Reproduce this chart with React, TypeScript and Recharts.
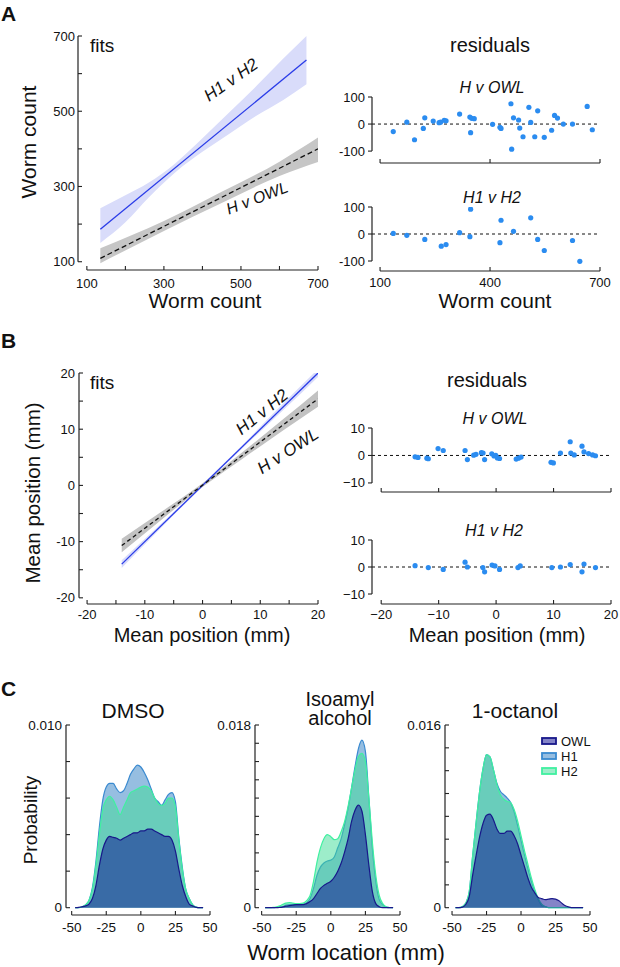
import React from 'react';
import { ComposedChart, Line, Area, Scatter, XAxis, YAxis, ReferenceLine } from 'recharts';

const FONT = '"Liberation Sans", Arial, Helvetica, sans-serif';
const AX = '#222';

// ---------------- Panel A: worm count fits ----------------
const A_TICKS = [100, 200, 300, 400, 500, 600, 700];
const A_TICK_LABELS: Record<number, string> = { 100: '100', 300: '300', 500: '500', 700: '700' };
const A_H12_LINE_X = [135, 670];
const A_H12_LINE_Y = [186, 636];
const A_H12_BAND_X = [135, 200, 260, 330, 400, 470, 540, 610, 670];
const A_H12_BAND_LO = [150, 205, 270, 338, 392, 440, 488, 530, 572];
const A_H12_BAND_HI = [242, 277, 310, 362, 428, 497, 567, 640, 700];
const A_HOWL_LINE_X = [135, 700];
const A_HOWL_LINE_Y = [109, 400];
const A_HOWL_BAND_X = [135, 300, 450, 600, 700];
const A_HOWL_BAND_LO = [96, 182, 256, 328, 365];
const A_HOWL_BAND_HI = [136, 208, 286, 366, 430];

// ---------------- Panel A: residuals ----------------
const A_RES_TICKS_X = [100, 400, 700];
const A_RES_TICKS_Y = [-100, 0, 100];
const A_RES_OWL_X = [136, 173, 194, 218, 222, 245, 261, 265, 275, 280, 317, 345, 347, 350, 357, 407, 427, 430, 457, 459, 464, 478, 481, 490, 506, 511, 522, 530, 548, 568, 576, 584, 600, 625, 665, 679];
const A_RES_OWL_Y = [-28, 7, -58, -16, 23, 11, 5, 7, 14, 12, 37, 26, -32, 21, 20, -1, -12, -16, 75, -93, 23, 15, -15, -47, 62, 6, -47, 49, -49, -23, 32, 22, 0, 0, 65, -21];
const A_RES_H12_X = [136, 173, 222, 267, 280, 317, 345, 347, 427, 430, 464, 511, 530, 548, 625, 645];
const A_RES_H12_Y = [2, -5, -20, -45, -39, 5, -10, 92, -32, 51, 10, 60, -20, -61, -24, -101];

// ---------------- Panel B: mean position fits ----------------
const B_TICKS = [-20, -15, -10, -5, 0, 5, 10, 15, 20];
const B_TICK_LABELS: Record<number, string> = { [-20]: '-20', [-10]: '-10', 0: '0', 10: '10', 20: '20' };
const B_H12_LINE_X = [-14, 20];
const B_H12_LINE_Y = [-14, 20];
const B_H12_BAND_X = [-14, -7, 0, 7, 14, 20];
const B_H12_BAND_LO = [-14.7, -7.35, -0.2, 6.7, 13.4, 19.3];
const B_H12_BAND_HI = [-13.3, -6.65, 0.2, 7.3, 14.6, 20.7];
const B_HOWL_LINE_X = [-14, 20];
const B_HOWL_LINE_Y = [-10.7, 15.4];
const B_HOWL_BAND_X = [-14, -7, 0, 7, 14, 20];
const B_HOWL_BAND_LO = [-11.9, -6.0, -0.3, 4.8, 9.8, 14.0];
const B_HOWL_BAND_HI = [-9.5, -4.6, 0.4, 6.0, 11.8, 16.9];

// ---------------- Panel B: residuals ----------------
const B_RES_TICKS_X = [-20, -10, 0, 10, 20];
const B_RES_TICK_LABELS_X: Record<number, string> = { [-20]: '\u221220', [-10]: '\u221210', 0: '0', 10: '10', 20: '20' };
const B_RES_TICKS_Y = [-10, 0, 10];
const B_RES_TICK_LABELS_Y: Record<number, string> = { [-10]: '\u221210', 0: '0', 10: '10' };
const B_RES_OWL_X = [-14.1, -13.6, -12.05, -11.8, -10.1, -9.2, -5.4, -5.0, -3.9, -3.5, -2.56, -2.27, -2.0, -0.75, -0.35, -0.06, 0.23, 0.6, 3.5, 3.9, 4.35, 9.56, 9.97, 11.2, 12.9, 13.0, 13.6, 14.95, 15.3, 16.1, 16.8, 17.3];
const B_RES_OWL_Y = [-0.5, -0.7, -1, -1.2, 2.5, 1.8, 1.8, -1.5, 0.1, 0.4, 1, 0.9, -1.5, 0.6, -0.2, 0, -0.9, -1.1, -1.3, -1, -0.6, -2.5, -2.7, 0.9, 5, 0.9, 0.2, 3.4, 1.3, 0.7, 0.2, -0.1];
const B_RES_H12_X = [-14.1, -11.8, -9.2, -5.4, -5.0, -2.3, -2.0, -0.7, -0.2, 0.6, 3.8, 4.2, 9.7, 11.2, 12.9, 14.95, 15.3, 17.3];
const B_RES_H12_Y = [0.5, -0.2, -0.9, 1.8, 0, -0.2, -1.8, 0.7, 0.4, -0.9, -0.2, 0.4, -0.2, 0, 0.9, -1.8, 1.1, -0.2];

// ---------------- Panel C: location densities (units of 1e-3) ----------------
const LOC_X = [-47.5, -45, -42.5, -40, -37.5, -35, -32.5, -30, -27.5, -25, -22.5, -20, -17.5, -15, -12.5, -10, -7.5, -5, -2.5, 0, 2.5, 5, 7.5, 10, 12.5, 15, 17.5, 20, 22.5, 25, 27.5, 30, 32.5, 35, 37.5, 40, 42.5, 45];
const LOC_TICKS = [-50, -25, 0, 25, 50];

const DMSO_H1 = [0, 0, 0.05, 0.15, 0.4, 1.1, 2.5, 4.4, 5.9, 6.6, 6.8, 6.8, 6.5, 6.3, 6.4, 6.8, 7.3, 7.6, 7.8, 7.7, 7.4, 7.0, 6.5, 6.0, 5.8, 5.6, 5.9, 6.2, 6.3, 5.8, 3.8, 2.2, 1.0, 0.5, 0.15, 0.03, 0, 0];
const DMSO_H2 = [0, 0, 0.05, 0.15, 0.4, 1.0, 2.3, 4.0, 5.4, 5.9, 6.1, 5.9, 5.5, 5.1, 5.5, 5.9, 6.3, 6.4, 6.5, 6.6, 6.65, 6.6, 6.4, 6.0, 5.7, 5.6, 5.7, 6.0, 6.0, 5.5, 3.7, 2.1, 1.0, 0.5, 0.15, 0.03, 0, 0];
const DMSO_OWL = [0, 0.02, 0.05, 0.1, 0.2, 0.5, 1.2, 2.3, 3.2, 3.7, 3.9, 3.85, 3.8, 3.7, 3.8, 3.9, 4.0, 4.1, 4.1, 4.2, 4.2, 4.3, 4.3, 4.2, 4.1, 4.0, 3.9, 3.9, 3.7, 3.1, 2.1, 1.2, 0.6, 0.2, 0.1, 0.02, 0, 0];

const ISO_H1 = [0, 0, 0, 0.02, 0.05, 0.1, 0.25, 0.3, 0.3, 0.3, 0.3, 0.35, 0.5, 0.9, 1.9, 3.2, 4.0, 4.4, 4.6, 4.7, 5.0, 5.9, 6.8, 8.2, 9.8, 11.8, 13.9, 15.7, 16.5, 15.4, 10.8, 5.9, 2.6, 0.8, 0.3, 0.05, 0, 0];
const ISO_H2 = [0, 0, 0.02, 0.05, 0.15, 0.3, 0.45, 0.5, 0.45, 0.4, 0.4, 0.45, 0.7, 1.2, 2.6, 4.5, 5.9, 6.8, 7.2, 7.0, 6.7, 6.8, 7.5, 8.5, 10.0, 11.8, 13.6, 14.9, 15.2, 14.4, 10.8, 6.5, 3.2, 1.2, 0.4, 0.1, 0.02, 0];
const ISO_OWL = [0, 0, 0, 0, 0.02, 0.05, 0.15, 0.2, 0.25, 0.3, 0.3, 0.3, 0.4, 0.6, 0.9, 1.4, 1.9, 2.2, 2.4, 2.6, 3.0, 3.6, 4.4, 5.5, 6.8, 8.5, 9.6, 10.1, 9.5, 7.2, 4.2, 1.6, 0.4, 0.1, 0, 0, 0, 0];

const OCT_H1 = [0, 0, 0.1, 0.4, 1.4, 4.6, 7.5, 10.2, 12.2, 13.4, 13.2, 12.1, 10.9, 10.2, 9.9, 9.6, 9.2, 8.4, 7.2, 5.9, 4.6, 3.4, 2.3, 1.4, 0.7, 0.2, 0.1, 0, 0, 0, 0, 0, 0, 0, 0, 0, 0, 0];
const OCT_H2 = [0, 0, 0.1, 0.4, 1.4, 4.6, 7.5, 10.2, 12.2, 13.4, 13.2, 12.1, 10.8, 9.9, 9.5, 9.3, 9.2, 8.6, 7.6, 6.3, 5.0, 3.8, 2.6, 1.6, 0.8, 0.3, 0.1, 0, 0, 0, 0, 0, 0, 0, 0, 0, 0, 0];
const OCT_OWL = [0, 0, 0.05, 0.3, 1.0, 2.9, 4.6, 6.2, 7.4, 8.1, 8.2, 7.7, 6.9, 6.5, 6.5, 6.7, 6.7, 6.3, 5.6, 4.6, 3.6, 2.6, 1.8, 1.3, 0.9, 0.8, 0.7, 0.75, 0.8, 0.75, 0.6, 0.35, 0.15, 0.05, 0, 0, 0, 0];

const DMSO_YTICKS = [0, 2, 4, 6, 8, 10];
const ISO_YTICKS = [0, 1.8, 3.6, 5.4, 7.2, 9, 10.8, 12.6, 14.4, 16.2, 18];
const OCT_YTICKS = [0, 2, 4, 6, 8, 10, 12, 14, 16];

const SERIES = [
  { key: 'h1', name: 'H1', fill: '#2d7dc3', stroke: '#3a8ad0' },
  { key: 'h2', name: 'H2', fill: '#3cdc96', stroke: '#40f0a0' },
  { key: 'owl', name: 'OWL', fill: '#0a0a91', stroke: '#18188a' },
];

// ---------------- helpers ----------------
type Row = Record<string, any>;
function mergeRows(series: { key: string; xs: number[]; ys: any[] }[]): Row[] {
  const m = new Map<number, Row>();
  series.forEach((s) => s.xs.forEach((x, i) => {
    const r = m.get(x) ?? { x };
    r[s.key] = s.ys[i];
    m.set(x, r);
  }));
  return Array.from(m.values()).sort((a, b) => a.x - b.x);
}
const zip = (lo: number[], hi: number[]) => lo.map((l, i) => [l, hi[i]]);
const pts = (xs: number[], ys: number[]) => xs.map((x, i) => ({ x, r: ys[i] }));
const dens = (h1: number[], h2: number[], owl: number[]) => LOC_X.map((x, i) => ({ x, h1: h1[i], h2: h2[i], owl: owl[i] }));

const YW = 40;
const XH = 20;
type Box = { bx: number; by: number; bw: number; bh: number; pl: number; pr: number; pt: number; pb: number };

function makeXTick(lab: (v: number) => string, dy: number, fs: number, len = 4) {
  return (p: any) => {
    const t = lab(p.payload.value);
    return (
      <g>
        <line x1={p.x} y1={p.y} x2={p.x} y2={p.y - len} stroke={AX} strokeWidth={1.1} />
        {t !== '' && (
          <text x={p.x} y={p.y + dy} textAnchor="middle" dominantBaseline="central" fontSize={fs} fontFamily={FONT} fill="#111">{t}</text>
        )}
      </g>
    );
  };
}
function makeYTick(lab: (v: number) => string, dx: number, fs: number, out = false, len = 4) {
  return (p: any) => {
    const t = lab(p.payload.value);
    const x2 = out ? p.x - len : p.x + len;
    return (
      <g>
        <line x1={p.x} y1={p.y} x2={x2} y2={p.y} stroke={AX} strokeWidth={1.1} />
        {t !== '' && (
          <text x={p.x - dx} y={p.y} textAnchor="end" dominantBaseline="central" fontSize={fs} fontFamily={FONT} fill="#111">{t}</text>
        )}
      </g>
    );
  };
}

function Frame(props: {
  box: Box; data: Row[]; xDomain: [number, number]; yDomain: [number, number];
  xTicks: number[]; yTicks: number[]; xLab: (v: number) => string; yLab: (v: number) => string;
  xSpan: [number, number]; ySpan: [number, number]; xDy: number; yDx: number; fs: number; yOut?: boolean;
  children?: React.ReactNode;
}) {
  const { box, xDomain, yDomain } = props;
  const margin = {
    left: box.pl - box.bx - YW,
    right: box.bx + box.bw - box.pr,
    top: box.pt - box.by,
    bottom: box.by + box.bh - box.pb - XH,
  };
  return (
    <div style={{ position: 'absolute', left: box.bx, top: box.by }}>
      <ComposedChart width={box.bw} height={box.bh} data={props.data} margin={margin}>
        <XAxis type="number" dataKey="x" domain={xDomain} ticks={props.xTicks} interval={0} height={XH}
          tickSize={0} tickMargin={0} axisLine={false} tickLine={false} allowDataOverflow
          tick={makeXTick(props.xLab, props.xDy, props.fs)} />
        <YAxis type="number" domain={yDomain} ticks={props.yTicks} interval={0} width={YW}
          tickSize={0} tickMargin={0} axisLine={false} tickLine={false} allowDataOverflow
          tick={makeYTick(props.yLab, props.yDx, props.fs, props.yOut)} />
        {props.children}
        <ReferenceLine ifOverflow="visible" stroke={AX} strokeWidth={1.2}
          segment={[{ x: props.xSpan[0], y: yDomain[0] }, { x: props.xSpan[1], y: yDomain[0] }]} />
        <ReferenceLine ifOverflow="visible" stroke={AX} strokeWidth={1.2}
          segment={[{ x: xDomain[0], y: props.ySpan[0] }, { x: xDomain[0], y: props.ySpan[1] }]} />
      </ComposedChart>
    </div>
  );
}

const dot = (p: any) => <circle cx={p.cx} cy={p.cy} r={2.6} fill="#2b8cf0" />;
const fromMap = (m: Record<number, string>) => (v: number) => m[v] ?? '';
const none = () => '';

function Residual(props: { box: Box; data: Row[]; xDomain: [number, number]; yDomain: [number, number];
  xTicks: number[]; yTicks: number[]; xLab: (v: number) => string; yLab: (v: number) => string; xDy: number; xMax: number }) {
  return (
    <Frame box={props.box} data={props.data} xDomain={props.xDomain} yDomain={props.yDomain}
      xTicks={props.xTicks} yTicks={props.yTicks} xLab={props.xLab} yLab={props.yLab}
      xSpan={[props.xTicks[0], props.xTicks[props.xTicks.length - 1]]}
      ySpan={[props.yTicks[0], props.yTicks[props.yTicks.length - 1]]}
      xDy={props.xDy} yDx={7} fs={13} yOut>
      <ReferenceLine ifOverflow="visible" stroke="#111" strokeWidth={1} strokeDasharray="3 3"
        segment={[{ x: props.xDomain[0], y: 0 }, { x: props.xMax, y: 0 }]} />
      <Scatter dataKey="r" shape={dot} isAnimationActive={false} />
    </Frame>
  );
}

function Density(props: { box: Box; data: Row[]; xDomain: [number, number]; yDomain: [number, number]; yTicks: number[]; topLabel: string }) {
  const top = props.yTicks[props.yTicks.length - 1];
  return (
    <Frame box={props.box} data={props.data} xDomain={props.xDomain} yDomain={props.yDomain}
      xTicks={LOC_TICKS} yTicks={props.yTicks} xLab={(v) => String(v)}
      yLab={(v) => (v === 0 ? '0' : Math.abs(v - top) < 1e-9 ? props.topLabel : '')}
      xSpan={[-50, 50]} ySpan={[0, top]} xDy={12.5} yDx={4} fs={13.5}>
      {SERIES.map((s) => (
        <Area key={s.key} dataKey={s.key} type="monotone" baseValue={0} stroke={s.stroke} strokeWidth={1.2}
          fill={s.fill} fillOpacity={0.5} isAnimationActive={false} dot={false} activeDot={false} />
      ))}
    </Frame>
  );
}

// ---------------- text overlay ----------------
type T = { t: string; x: number; y: number; fs: number; a?: number; anchor?: 'start' | 'middle' | 'end'; italic?: boolean; bold?: boolean };
const TEXTS: T[] = [
  { t: 'A', x: 1, y: 13, fs: 21, anchor: 'start', bold: true },
  { t: 'fits', x: 90, y: 45, fs: 19, anchor: 'start' },
  { t: 'Worm count', x: 28, y: 142, fs: 21, a: -90 },
  { t: 'Worm count', x: 205, y: 300, fs: 21 },
  { t: 'H1 v H2', x: 231, y: 80, fs: 17, a: -35, italic: true },
  { t: 'H v OWL', x: 257, y: 198, fs: 16, a: -21, italic: true },
  { t: 'residuals', x: 490, y: 45, fs: 20 },
  { t: 'H v OWL', x: 492, y: 87, fs: 16, italic: true },
  { t: 'H1 v H2', x: 492, y: 197, fs: 16, italic: true },
  { t: 'Worm count', x: 495, y: 300, fs: 21 },
  { t: 'B', x: 1, y: 340, fs: 21, anchor: 'start', bold: true },
  { t: 'fits', x: 90, y: 382, fs: 19, anchor: 'start' },
  { t: 'Mean position (mm)', x: 32, y: 493, fs: 20.5, a: -90 },
  { t: 'Mean position (mm)', x: 202, y: 635, fs: 20 },
  { t: 'H1 v H2', x: 262, y: 412, fs: 17, a: -39, italic: true },
  { t: 'H v OWL', x: 288, y: 451, fs: 17, a: -33, italic: true },
  { t: 'residuals', x: 487, y: 380, fs: 20 },
  { t: 'H v OWL', x: 495, y: 418, fs: 16, italic: true },
  { t: 'H1 v H2', x: 494, y: 530, fs: 16, italic: true },
  { t: 'Mean position (mm)', x: 497, y: 635, fs: 20 },
  { t: 'C', x: 1, y: 688, fs: 21, anchor: 'start', bold: true },
  { t: 'DMSO', x: 133, y: 710, fs: 21 },
  { t: 'Isoamyl', x: 340, y: 699, fs: 20 },
  { t: 'alcohol', x: 340, y: 718, fs: 20 },
  { t: '1-octanol', x: 515, y: 710, fs: 21 },
  { t: 'Probability', x: 30, y: 820, fs: 19, a: -90 },
  { t: 'Worm location (mm)', x: 346, y: 952, fs: 22 },
];
const LEGEND_ORDER = ['owl', 'h1', 'h2'];

function Overlay() {
  return (
    <svg width={620} height={967} style={{ position: 'absolute', left: 0, top: 0, pointerEvents: 'none' }}>
      {TEXTS.map((d, i) => (
        <text key={i} transform={`translate(${d.x},${d.y}) rotate(${d.a ?? 0})`} textAnchor={d.anchor ?? 'middle'}
          dominantBaseline="central" fontSize={d.fs} fontFamily={FONT} fill="#111"
          fontStyle={d.italic ? 'italic' : 'normal'} fontWeight={d.bold ? 'bold' : 'normal'}>{d.t}</text>
      ))}
      {LEGEND_ORDER.map((k, i) => {
        const s = SERIES.find((q) => q.key === k)!;
        const y = 741 + i * 15;
        return (
          <g key={k}>
            <rect x={542} y={y - 3} width={14} height={6} fill={s.fill} fillOpacity={0.5} stroke={s.stroke} strokeWidth={1.8} />
            <text x={561} y={y} dominantBaseline="central" fontSize={13} fontFamily={FONT} fill="#111">{s.name}</text>
          </g>
        );
      })}
    </svg>
  );
}

export default function App() {
  const aFits = mergeRows([
    { key: 'h12', xs: A_H12_LINE_X, ys: A_H12_LINE_Y },
    { key: 'h12b', xs: A_H12_BAND_X, ys: zip(A_H12_BAND_LO, A_H12_BAND_HI) },
    { key: 'howl', xs: A_HOWL_LINE_X, ys: A_HOWL_LINE_Y },
    { key: 'howlb', xs: A_HOWL_BAND_X, ys: zip(A_HOWL_BAND_LO, A_HOWL_BAND_HI) },
  ]);
  const bFits = mergeRows([
    { key: 'h12', xs: B_H12_LINE_X, ys: B_H12_LINE_Y },
    { key: 'h12b', xs: B_H12_BAND_X, ys: zip(B_H12_BAND_LO, B_H12_BAND_HI) },
    { key: 'howl', xs: B_HOWL_LINE_X, ys: B_HOWL_LINE_Y },
    { key: 'howlb', xs: B_HOWL_BAND_X, ys: zip(B_HOWL_BAND_LO, B_HOWL_BAND_HI) },
  ]);
  const aLab = fromMap(A_TICK_LABELS);
  const bLab = fromMap(B_TICK_LABELS);
  const resALabY = (v: number) => String(v);

  return (
    <div style={{ position: 'absolute', left: 0, top: 0, width: 620, height: 967, background: '#fff', fontFamily: FONT }}>
      {/* A fits */}
      <Frame box={{ bx: 0, by: 0, bw: 330, bh: 300, pl: 78, pr: 318, pt: 36, pb: 270 }} data={aFits}
        xDomain={[77, 700]} yDomain={[78, 700]} xTicks={A_TICKS} yTicks={A_TICKS} xLab={aLab} yLab={aLab}
        xSpan={[100, 700]} ySpan={[100, 700]} xDy={13} yDx={3} fs={13}>
        <Area dataKey="h12b" type="monotone" stroke="none" fill="#d9dcfa" fillOpacity={1} connectNulls isAnimationActive={false} dot={false} activeDot={false} />
        <Area dataKey="howlb" type="monotone" stroke="none" fill="#c6c6c6" fillOpacity={1} connectNulls isAnimationActive={false} dot={false} activeDot={false} />
        <Line dataKey="h12" type="linear" stroke="#2a3ce8" strokeWidth={1.3} dot={false} activeDot={false} connectNulls isAnimationActive={false} />
        <Line dataKey="howl" type="linear" stroke="#111" strokeWidth={1.3} strokeDasharray="5 3" dot={false} activeDot={false} connectNulls isAnimationActive={false} />
      </Frame>

      {/* A residuals */}
      <Residual box={{ bx: 320, by: 85, bw: 300, bh: 100, pl: 372, pr: 600, pt: 97, pb: 163 }}
        data={pts(A_RES_OWL_X, A_RES_OWL_Y)} xDomain={[78, 700]} yDomain={[-144, 100]}
        xTicks={A_RES_TICKS_X} yTicks={A_RES_TICKS_Y} xLab={none} yLab={resALabY} xDy={11} xMax={700} />
      <Residual box={{ bx: 320, by: 195, bw: 300, bh: 100, pl: 372, pr: 600, pt: 207, pb: 271 }}
        data={pts(A_RES_H12_X, A_RES_H12_Y)} xDomain={[78, 700]} yDomain={[-137, 100]}
        xTicks={A_RES_TICKS_X} yTicks={A_RES_TICKS_Y} xLab={(v) => String(v)} yLab={resALabY} xDy={11} xMax={700} />

      {/* B fits */}
      <Frame box={{ bx: 0, by: 360, bw: 330, bh: 265, pl: 79, pr: 318, pt: 373, pb: 604 }} data={bFits}
        xDomain={[-21.4, 20]} yDomain={[-21.1, 20]} xTicks={B_TICKS} yTicks={B_TICKS} xLab={bLab} yLab={bLab}
        xSpan={[-20, 20]} ySpan={[-20, 20]} xDy={10.5} yDx={4} fs={13}>
        <Area dataKey="h12b" type="monotone" stroke="none" fill="#d9dcfa" fillOpacity={1} connectNulls isAnimationActive={false} dot={false} activeDot={false} />
        <Area dataKey="howlb" type="monotone" stroke="none" fill="#c2c2c2" fillOpacity={1} connectNulls isAnimationActive={false} dot={false} activeDot={false} />
        <Line dataKey="h12" type="linear" stroke="#2a3ce8" strokeWidth={1.3} dot={false} activeDot={false} connectNulls isAnimationActive={false} />
        <Line dataKey="howl" type="linear" stroke="#111" strokeWidth={1.3} strokeDasharray="4 3" dot={false} activeDot={false} connectNulls isAnimationActive={false} />
      </Frame>

      {/* B residuals */}
      <Residual box={{ bx: 320, by: 415, bw: 300, bh: 100, pl: 372, pr: 611, pt: 428, pb: 492 }}
        data={pts(B_RES_OWL_X, B_RES_OWL_Y)} xDomain={[-21.6, 20]} yDomain={[-13.3, 10]}
        xTicks={B_RES_TICKS_X} yTicks={B_RES_TICKS_Y} xLab={none} yLab={fromMap(B_RES_TICK_LABELS_Y)} xDy={10} xMax={20} />
      <Residual box={{ bx: 320, by: 528, bw: 300, bh: 100, pl: 372, pr: 611, pt: 540, pb: 604 }}
        data={pts(B_RES_H12_X, B_RES_H12_Y)} xDomain={[-21.6, 20]} yDomain={[-13.7, 10]}
        xTicks={B_RES_TICKS_X} yTicks={B_RES_TICKS_Y} xLab={fromMap(B_RES_TICK_LABELS_X)} yLab={fromMap(B_RES_TICK_LABELS_Y)} xDy={10} xMax={20} />

      {/* C densities */}
      <Density box={{ bx: 0, by: 715, bw: 220, bh: 225, pl: 66, pr: 210, pt: 725, pb: 915 }}
        data={dens(DMSO_H1, DMSO_H2, DMSO_OWL)} xDomain={[-54.1, 50]} yDomain={[-0.4, 10]} yTicks={DMSO_YTICKS} topLabel="0.010" />
      <Density box={{ bx: 200, by: 715, bw: 210, bh: 225, pl: 255, pr: 400, pt: 725, pb: 915 }}
        data={dens(ISO_H1, ISO_H2, ISO_OWL)} xDomain={[-54.8, 50]} yDomain={[-0.72, 18]} yTicks={ISO_YTICKS} topLabel="0.018" />
      <Density box={{ bx: 395, by: 715, bw: 205, bh: 225, pl: 445, pr: 590, pt: 725, pb: 915 }}
        data={dens(OCT_H1, OCT_H2, OCT_OWL)} xDomain={[-55.1, 50]} yDomain={[-0.64, 16]} yTicks={OCT_YTICKS} topLabel="0.016" />

      <Overlay />
    </div>
  );
}
